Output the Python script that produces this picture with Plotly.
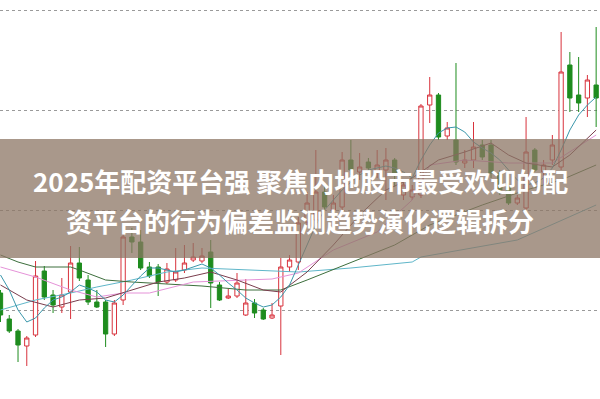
import plotly.graph_objects as go

# ---- candle data (price units) ----
idx = list(range(69))
opens = [10.7, 8.1, 6.9, 5.4, 6.5, 12.9, 10.5, 9.3, 10.8, 13.7,
         12.0, 9.8, 9.8, 6.6, 10.0, 16.3, 15.8, 13.3, 13.3, 11.8,
         12.0, 13.0, 14.0, 13.9, 14.8, 11.5, 10.2, 10.4, 8.5, 9.7,
         9.0, 8.2, 9.4, 13.3, 13.8, 17.8, 18.0, 20.8, 19.0, 19.3,
         24.0, 22.8, 23.8, 22.8, 23.0, 24.0, 20.5, 20.3, 20.5, 29.5,
         30.5, 26.4, 26.0, 23.7, 24.0, 25.5, 25.5, 22.7, 21.3, 19.7,
         19.2, 25.0, 22.8, 24.0, 23.3, 33.5, 30.5, 30.2, 31.5]
highs = [11.0, 8.5, 7.1, 6.4, 13.9, 13.4, 11.0, 12.2, 15.4, 15.3,
         12.5, 11.0, 10.0, 10.0, 16.8, 17.2, 17.0, 13.8, 13.6, 13.7,
         15.2, 15.5, 15.7, 15.2, 16.0, 11.8, 11.1, 12.7, 12.1, 10.1,
         9.2, 9.7, 14.2, 14.5, 18.3, 20.8, 25.0, 21.5, 20.5, 24.8,
         26.0, 24.7, 24.2, 25.0, 25.2, 24.2, 22.0, 21.5, 29.6, 32.3,
         30.7, 27.8, 33.7, 25.0, 27.8, 26.0, 26.0, 23.0, 21.7, 20.5,
         28.3, 25.2, 24.0, 26.5, 36.8, 34.8, 34.3, 32.5, 37.3]
lows = [7.8, 6.7, 3.8, 3.4, 6.3, 10.0, 8.7, 8.7, 8.1, 11.9,
        9.5, 9.2, 5.3, 6.4, 9.5, 14.7, 13.0, 12.2, 10.4, 11.6,
        11.8, 12.7, 13.8, 13.7, 9.2, 9.9, 10.1, 10.2, 8.4, 8.2,
        8.0, 8.1, 4.5, 12.8, 13.0, 17.5, 17.5, 19.0, 18.7, 19.0,
        22.5, 22.0, 22.8, 22.2, 20.0, 21.3, 20.0, 20.0, 20.2, 27.7,
        26.0, 26.0, 23.5, 23.2, 23.2, 24.0, 22.2, 20.5, 19.5, 19.5,
        19.0, 22.8, 21.5, 23.5, 23.0, 28.8, 28.8, 28.3, 27.3]
closes = [8.5, 6.9, 5.5, 6.2, 12.4, 10.3, 9.5, 10.5, 13.7, 12.2,
          9.8, 9.3, 6.6, 9.7, 16.3, 15.8, 13.2, 12.4, 11.8, 13.1,
          12.8, 13.7, 14.3, 14.4, 11.7, 10.0, 10.4, 11.7, 9.7, 8.7,
          8.1, 8.5, 13.3, 14.0, 17.7, 19.7, 20.8, 19.3, 19.7, 24.0,
          23.0, 23.3, 23.2, 23.5, 24.0, 22.7, 21.5, 21.0, 29.4, 30.5,
          26.3, 27.2, 23.8, 24.0, 25.3, 24.3, 22.7, 21.0, 19.7, 20.2,
          24.8, 23.0, 23.5, 25.5, 32.8, 30.2, 29.7, 32.0, 30.2]

# ---- moving average lines (read at selected candle indices) ----
ma5_x = list(range(69))
ma5_y = [12.5, 11.0, 9.0, 7.8, 8.2, 9.2, 10.0, 10.3, 10.8, 11.5,
         11.2, 10.8, 10.0, 9.8, 10.5, 11.5, 12.4, 13.2, 13.2, 13.0,
         12.8, 13.0, 13.3, 13.6, 13.2, 12.5, 11.7, 11.0, 10.2, 9.7,
         9.3, 9.5, 10.3, 11.5, 13.5, 15.5, 17.5, 19.0, 20.0, 21.0,
         21.8, 22.5, 23.0, 23.2, 23.4, 23.2, 22.8, 22.2, 24.0, 25.5,
         26.7, 27.2, 27.3, 26.8, 25.8, 25.2, 24.7, 24.0, 23.0, 22.0,
         21.5, 21.7, 22.2, 23.2, 25.0, 27.0, 28.5, 29.5, 30.3]
ma10_x = [0, 3, 6, 9, 12, 15, 18, 21, 24, 27, 30, 32, 35, 38, 41, 44, 47, 50, 53, 56, 58, 60, 63, 65, 68]
ma10_y = [11.5, 10.0, 9.3, 10.0, 10.2, 11.0, 11.8, 12.2, 12.8, 12.0, 11.0, 10.8, 12.8, 15.5, 18.5, 21.0,
          22.2, 24.0, 24.8, 25.7, 24.5, 23.7, 23.3, 24.5, 27.0]
ma20_x = [0, 4, 8, 11, 14, 17, 22, 26, 31, 34, 38, 43, 47, 49, 53, 58, 63, 68]
ma20_y = [13.3, 12.3, 11.0, 10.3, 10.7, 10.7, 11.8, 11.9, 12.1, 12.7, 15.0, 16.8, 20.0, 23.5, 24.0, 23.7, 23.7, 26.5]
ma30_x = [0, 2, 4, 8, 9, 12, 15, 23, 28, 32, 35, 39, 42, 45, 49, 55, 60, 64, 68]
ma30_y = [14.5, 13.8, 13.3, 13.3, 13.0, 12.0, 11.8, 11.4, 11.0, 11.0, 12.0, 13.4, 14.5, 15.5, 17.5, 19.5,
          21.0, 22.0, 23.5]
ma60_x = [0, 4, 8, 11, 15, 19, 23, 28, 34, 40, 46, 47, 48, 59, 68]
ma60_y = [9.0, 10.0, 10.7, 11.3, 12.0, 12.8, 13.2, 13.0, 12.8, 13.2, 13.7, 13.8, 14.3, 16.0, 19.5]

grid_vals = [9, 19, 29, 39]
title_lines = ["2025年配资平台强 聚焦内地股市最受欢迎的配",
               "资平台的行为偏差监测趋势演化逻辑拆分"]

fig = go.Figure()

line_specs = [
    (ma60_x, ma60_y, "#5fb6c9"),
    (ma30_x, ma30_y, "#3c6e3c"),
    (ma20_x, ma20_y, "#e592d8"),
    (ma10_x, ma10_y, "#7a3d4d"),
    (ma5_x, ma5_y, "#3a97ab"),
]
for xs, ys, col in line_specs:
    fig.add_trace(go.Scatter(x=xs, y=ys, mode="lines",
                             line=dict(color=col, width=1), hoverinfo="skip"))

fig.add_trace(go.Candlestick(
    x=idx, open=opens, high=highs, low=lows, close=closes,
    increasing=dict(line=dict(color="#d8323c", width=1), fillcolor="#ffffff"),
    decreasing=dict(line=dict(color="#1e8c1e", width=1), fillcolor="#1e8c1e"),
    whiskerwidth=0, hoverinfo="skip"))

fig.update_layout(
    width=600, height=399,
    margin=dict(l=0, r=0, t=0, b=0),
    paper_bgcolor="white", plot_bgcolor="white",
    showlegend=False,
    xaxis=dict(range=[-0.057, 68.44], visible=False, rangeslider=dict(visible=False)),
    yaxis=dict(range=[0.1, 40], tickvals=grid_vals, showticklabels=False,
               showgrid=True, gridcolor="#9a9a9a", griddash="dot", gridwidth=1,
               zeroline=False, showline=False),
)

fig.add_shape(type="rect", xref="paper", yref="paper", x0=0, x1=1,
              y0=1 - 258 / 399, y1=1 - 139 / 399, layer="above",
              line=dict(width=0), fillcolor="rgba(140,118,100,0.75)")

for i, (txt, yc) in enumerate(zip(title_lines, [180, 220])):
    fig.add_annotation(xref="paper", yref="paper", x=0.5, y=1 - yc / 399,
                       text="<b>" + txt + "</b>", showarrow=False,
                       xanchor="center", yanchor="middle",
                       font=dict(family="Noto Sans CJK SC", size=26, color="white"))

fig.write_html("out.html")
